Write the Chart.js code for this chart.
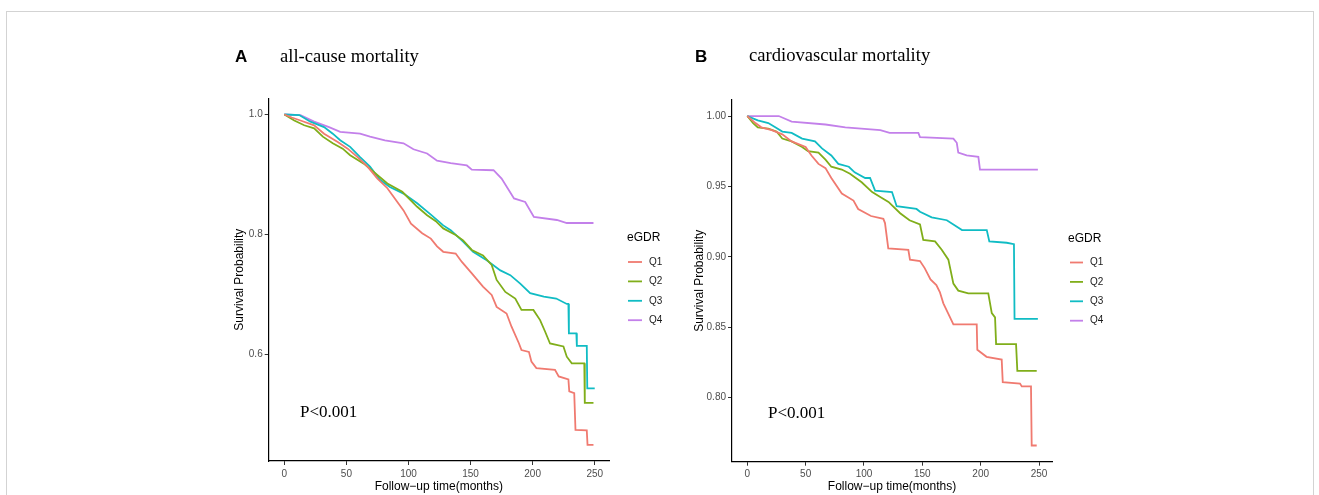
<!DOCTYPE html>
<html>
<head>
<meta charset="utf-8">
<script src="https://cdn.jsdelivr.net/npm/chart.js@4.4.1/dist/chart.umd.min.js"></script>
<style>
  body { margin: 0; background: #fff; }
  #page { position: relative; width: 1319px; height: 495px; overflow: hidden; }
  #frame { position: absolute; left: 6px; top: 11px; width: 1306px; height: 500px; border: 1px solid #d3d3d3; }
  canvas { position: absolute; top: 0; }
  #chartA { left: 200px; }
  #chartB { left: 680px; }
</style>
</head>
<body>
<div id="page">
  <div id="frame"></div>
  <canvas id="chartA" width="480" height="495"></canvas>
  <canvas id="chartB" width="460" height="495"></canvas>
</div>
<script>
// groups and ticks
const groupNames = ['Q1', 'Q2', 'Q3', 'Q4'];
const groupColors = ['#F07A70', '#80AE1A', '#10BCC4', '#C380EA'];
const xTicks = [0, 50, 100, 150, 200, 250];
const yTicksA = [0.6, 0.8, 1.0];
const yTickLabelsA = ['0.6', '0.8', '1.0'];
const yTicksB = [0.80, 0.85, 0.90, 0.95, 1.00];
const yTickLabelsB = ['0.80', '0.85', '0.90', '0.95', '1.00'];

// A: all-cause mortality, [months, survival] read at the curve corners
const allCauseQ1 = [[0,1],[6,0.995],[13,0.99],[24,0.982],[32,0.968],[43,0.954],[51,0.943],[59,0.929],[67,0.913],[75,0.893],[83,0.877],[90,0.857],[96,0.84],[102,0.818],[111,0.802],[118,0.793],[123,0.78],[128,0.771],[138,0.768],[143,0.754],[151,0.735],[160,0.713],[167,0.699],[171,0.679],[179,0.668],[183,0.646],[189,0.618],[191,0.607],[197,0.604],[199,0.588],[203,0.577],[218,0.574],[221,0.563],[228.8,0.558],[229.5,0.538],[233.5,0.535],[234.5,0.474],[243.6,0.473],[244.2,0.449],[249,0.449]];
const allCauseQ2 = [[0,1],[8,0.99],[16,0.982],[24,0.977],[31,0.963],[39,0.952],[47,0.943],[53,0.932],[64,0.918],[72,0.904],[83,0.885],[95,0.871],[107,0.846],[115,0.832],[122,0.822],[128,0.81],[138,0.799],[144,0.79],[151,0.774],[160,0.765],[167,0.749],[171,0.724],[178,0.704],[186,0.693],[191,0.674],[200.6,0.674],[206,0.657],[210,0.638],[214,0.618],[224.8,0.613],[227.5,0.596],[231.5,0.585],[241.6,0.585],[242,0.519],[249,0.519]];
const allCauseQ3 = [[0,1],[12,0.999],[21,0.988],[32,0.979],[39,0.968],[45,0.957],[53,0.946],[61,0.929],[69,0.913],[77,0.891],[85,0.879],[96,0.868],[107,0.852],[118,0.833],[128,0.815],[134,0.807],[144,0.788],[152,0.771],[163,0.757],[174,0.74],[182,0.732],[190,0.718],[198,0.702],[209,0.696],[219,0.693],[227.5,0.684],[228.8,0.684],[229.2,0.635],[235.2,0.635],[235.6,0.614],[243.6,0.614],[244,0.543],[250,0.543]];
const allCauseQ4 = [[0,1],[13,0.999],[24,0.988],[36,0.979],[45,0.971],[61,0.968],[69,0.963],[81,0.957],[96,0.952],[104,0.942],[115,0.935],[123,0.923],[134,0.919],[147,0.915],[151,0.908],[168.5,0.907],[175,0.893],[185,0.86],[194,0.854],[201,0.829],[219.5,0.824],[227.5,0.819],[249,0.819]];

// B: cardiovascular mortality
const cardioQ1 = [[0,1],[7,0.995],[12,0.992],[21,0.99],[30,0.987],[38,0.982],[50,0.978],[55,0.972],[61,0.966],[67,0.963],[72,0.956],[81,0.945],[91,0.94],[95,0.934],[106,0.929],[116.6,0.927],[118,0.924],[120.8,0.906],[138,0.905],[139.4,0.898],[148,0.897],[152,0.892],[157,0.884],[162,0.88],[165,0.875],[168,0.867],[172,0.86],[176.6,0.852],[196.6,0.852],[197.1,0.834],[205,0.829],[218,0.827],[218.9,0.811],[233.7,0.81],[235.2,0.808],[243.1,0.808],[243.7,0.766],[248,0.766]];
const cardioQ2 = [[0,1],[5,0.995],[9,0.992],[18,0.991],[25,0.989],[30,0.984],[38,0.982],[47,0.978],[52,0.975],[61,0.974],[67,0.969],[72,0.964],[81,0.962],[88,0.959],[98,0.953],[107,0.946],[115,0.942],[121,0.939],[131,0.931],[139,0.926],[148,0.923],[150.8,0.912],[160.9,0.911],[166.6,0.905],[172.3,0.898],[176.6,0.881],[180.8,0.876],[189.4,0.874],[206.5,0.874],[209.5,0.86],[212.3,0.857],[213.2,0.838],[230.3,0.838],[231.4,0.819],[248,0.819]];
const cardioQ3 = [[0,1],[9,0.997],[18,0.995],[24,0.992],[30,0.989],[38,0.988],[47,0.984],[58,0.982],[64,0.977],[72,0.972],[78,0.966],[87,0.964],[92,0.96],[101,0.956],[105.2,0.956],[109.5,0.947],[124,0.946],[128,0.936],[145,0.934],[148,0.932],[158,0.928],[171,0.926],[184,0.919],[205.2,0.919],[207.4,0.911],[222.3,0.91],[228.5,0.909],[229,0.856],[249,0.856]];
const cardioQ4 = [[0,1],[27,1.0],[38,0.996],[67,0.994],[84,0.992],[114,0.99],[122,0.988],[146.6,0.988],[148,0.985],[176.6,0.984],[179.5,0.981],[180.8,0.974],[188,0.972],[198,0.971],[199.4,0.962],[249,0.962]];

// panel texts, titles, legend
const panelText = {
    id: 'panelText',
    afterDraw(chart, args, o) {
        const ctx = chart.ctx;
        ctx.save();
        ctx.fillStyle = '#000';
        ctx.textBaseline = 'alphabetic';
        ctx.font = 'bold 17px "Liberation Sans", Arial, sans-serif';
        ctx.fillText(o.letter, o.letterX, o.letterY);
        ctx.font = '18.6px "Liberation Serif", "Times New Roman", serif';
        ctx.fillText(o.title, o.titleX, o.titleY);
        ctx.font = '17px "Liberation Serif", "Times New Roman", serif';
        ctx.fillText(o.pText, o.pX, o.pY);
        ctx.restore();
    }
};

const kmLegend = {
    id: 'kmLegend',
    afterDraw(chart, args, o) {
        const ctx = chart.ctx;
        ctx.save();
        ctx.textBaseline = 'middle';
        ctx.fillStyle = '#000';
        ctx.font = '12px "Liberation Sans", Arial, sans-serif';
        ctx.fillText(o.title, o.titleX, o.titleY);
        ctx.font = '10px "Liberation Sans", Arial, sans-serif';
        chart.data.datasets.forEach((ds, i) => {
            const y = o.itemY + i * o.step;
            ctx.strokeStyle = ds.borderColor;
            ctx.lineWidth = 1.8;
            ctx.beginPath();
            ctx.moveTo(o.lineX, y);
            ctx.lineTo(o.lineX + o.lineW, y);
            ctx.stroke();
            ctx.fillStyle = '#1a1a1a';
            ctx.fillText(ds.label, o.textX, y);
        });
        ctx.restore();
    }
};

function makeChart(id, cfg) {
    return new Chart(document.getElementById(id), {
        type: 'line',
        data: {
            datasets: cfg.series.map((s, i) => ({
                label: groupNames[i],
                data: s.map(p => ({ x: p[0], y: p[1] })),
                borderColor: groupColors[i],
                backgroundColor: groupColors[i],
                borderWidth: 1.8,
                tension: 0,
                pointRadius: 0,
                fill: false
            }))
        },
        options: {
            responsive: false,
            animation: false,
            events: [],
            layout: { padding: { left: cfg.padLeft, right: cfg.padRight, top: cfg.padTop, bottom: 0 } },
            plugins: {
                legend: { display: false },
                tooltip: { enabled: false },
                panelText: cfg.text,
                kmLegend: cfg.legend
            },
            scales: {
                x: {
                    type: 'linear',
                    min: cfg.xMin,
                    max: cfg.xMax,
                    afterBuildTicks: s => { s.ticks = xTicks.map(v => ({ value: v })); },
                    afterFit: s => { s.height = cfg.xHeight; },
                    ticks: { color: '#4d4d4d', font: { size: 10, family: '"Liberation Sans", Arial' }, padding: 3, maxRotation: 0 },
                    grid: { drawOnChartArea: false, drawTicks: true, tickLength: 4, tickColor: '#333', tickWidth: 1 },
                    border: { display: true, color: '#000', width: 1.2 },
                    title: { display: true, text: 'Follow\u2212up time(months)', color: '#000', font: { size: 12, family: '"Liberation Sans", Arial' }, padding: { top: 0, bottom: 0.8 } }
                },
                y: {
                    type: 'linear',
                    min: cfg.yMin,
                    max: cfg.yMax,
                    afterBuildTicks: s => { s.ticks = cfg.yTicks.map(v => ({ value: v })); },
                    afterFit: s => { s.width = cfg.yWidth; },
                    ticks: {
                        color: '#4d4d4d',
                        font: { size: 10, family: '"Liberation Sans", Arial' },
                        padding: 2,
                        callback: (v, i) => cfg.yLabels[i]
                    },
                    grid: { drawOnChartArea: false, drawTicks: true, tickLength: 4, tickColor: '#333', tickWidth: 1 },
                    border: { display: true, color: '#000', width: 1.2 },
                    title: { display: true, text: 'Survival Probability', color: '#000', font: { size: 12, family: '"Liberation Sans", Arial' }, padding: { top: 4, bottom: 0 } }
                }
            }
        },
        plugins: [panelText, kmLegend]
    });
}

makeChart('chartA', {
    series: [allCauseQ1, allCauseQ2, allCauseQ3, allCauseQ4],
    xMin: -12.6, xMax: 261.5, yMin: 0.422, yMax: 1.027,
    yTicks: yTicksA, yLabels: yTickLabelsA,
    padLeft: 28.8, yWidth: 39.9, padRight: 71, padTop: 98.3, xHeight: 34,
    text: { letter: 'A', letterX: 35, letterY: 62, title: 'all-cause mortality', titleX: 80, titleY: 62, pText: 'P<0.001', pX: 100, pY: 417 },
    legend: { title: 'eGDR', titleX: 427, titleY: 238, lineX: 428, lineW: 14, textX: 449, itemY: 262, step: 19.4 }
});

makeChart('chartB', {
    series: [cardioQ1, cardioQ2, cardioQ3, cardioQ4],
    xMin: -13.1, xMax: 261.1, yMin: 0.7545, yMax: 1.0114,
    yTicks: yTicksB, yLabels: yTickLabelsB,
    padLeft: 8.8, yWidth: 43.2, padRight: 88, padTop: 100, xHeight: 33.3,
    text: { letter: 'B', letterX: 15, letterY: 61.5, title: 'cardiovascular mortality', titleX: 69, titleY: 61, pText: 'P<0.001', pX: 88, pY: 418 },
    legend: { title: 'eGDR', titleX: 388, titleY: 239, lineX: 390, lineW: 13, textX: 410, itemY: 262.5, step: 19.4 }
});
</script>
</body>
</html>
